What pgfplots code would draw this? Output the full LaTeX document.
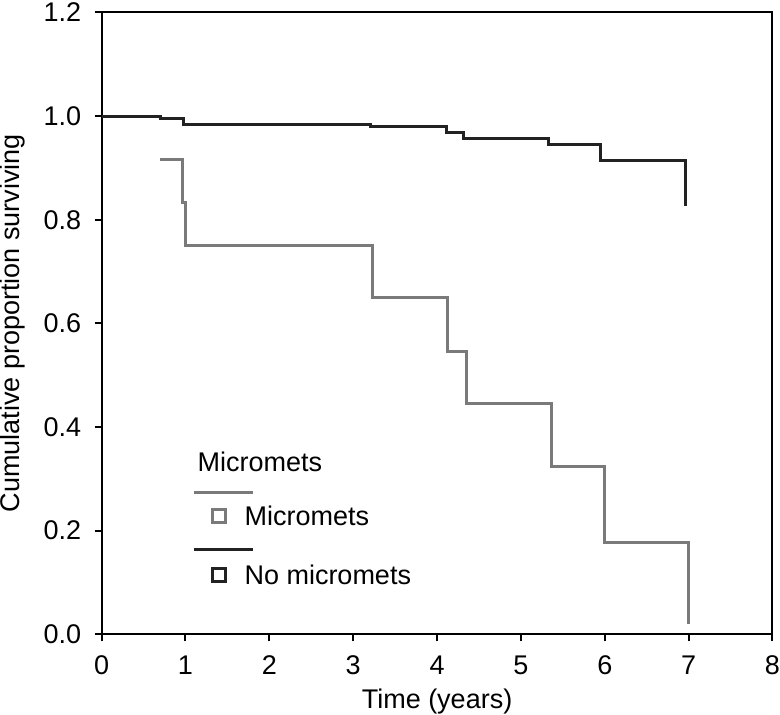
\documentclass[border=0pt]{standalone}
\usepackage{pgfplots}
\pgfplotsset{compat=1.18}
\usepackage{fontspec}
\setmainfont{Liberation Sans}
\definecolor{dk}{HTML}{222222}
\definecolor{gr}{HTML}{7a7a7a}
\begin{document}
\fontsize{13.5}{16}\selectfont
\begin{tikzpicture}
\begin{axis}[
  scale only axis, width=335.5pt, height=311pt,
  xmin=0, xmax=8, ymin=0, ymax=1.2,
  xtick={0,1,2,3,4,5,6,7,8},
  ytick={0,0.2,0.4,0.6,0.8,1.0,1.2},
  /pgf/number format/assume math mode=true,
  tick align=outside, tick pos=left,
  major tick length=3.5pt,
  axis line style={line width=1pt},
  every tick/.style={black, line width=1pt},
  tick label style={font=\fontsize{13.5}{16}\selectfont},
  yticklabel style={/pgf/number format/fixed, /pgf/number format/fixed zerofill, /pgf/number format/precision=1, xshift=-2pt, inner ysep=1.5pt},
  xticklabel style={inner sep=0pt, yshift=-7pt},
  label style={font=\fontsize{13.5}{16}\selectfont},
  xlabel={Time (years)},
  ylabel={Cumulative proportion surviving},
  ylabel style={at={(axis description cs:-0.152,0.5)}, anchor=north, inner sep=0pt},
  xlabel style={inner sep=0pt, yshift=-7pt},
  clip=false,
]
\addplot[const plot, color=dk, line width=1.5pt] coordinates {
 (0,1.0) (0.70,0.996) (0.98,0.983) (3.21,0.979) (4.11,0.969) (4.32,0.956) (5.33,0.945) (5.95,0.914) (6.96,0.826)
};
\addplot[const plot, color=gr, line width=1.5pt] coordinates {
 (0.70,0.917) (0.97,0.833) (1.00,0.75) (3.23,0.65) (4.13,0.546) (4.35,0.445) (5.37,0.324) (6.0,0.177) (7.0,0.02)
};
% legend
\node[anchor=west, inner sep=0pt] at (axis cs:1.14,0.332) {Micromets};
\draw[gr, line width=1.5pt] (axis cs:1.10,0.274) -- (axis cs:1.80,0.274);
\node[draw=gr, line width=1.4pt, minimum size=6.5pt, inner sep=0pt] at (axis cs:1.40,0.229) {};
\node[anchor=west, inner sep=0pt] at (axis cs:1.70,0.229) {Micromets};
\draw[dk, line width=1.5pt] (axis cs:1.10,0.163) -- (axis cs:1.80,0.163);
\node[draw=dk, line width=1.4pt, minimum size=6.5pt, inner sep=0pt] at (axis cs:1.40,0.115) {};
\node[anchor=west, inner sep=0pt] at (axis cs:1.70,0.115) {No micromets};
\end{axis}
\end{tikzpicture}
\end{document}
